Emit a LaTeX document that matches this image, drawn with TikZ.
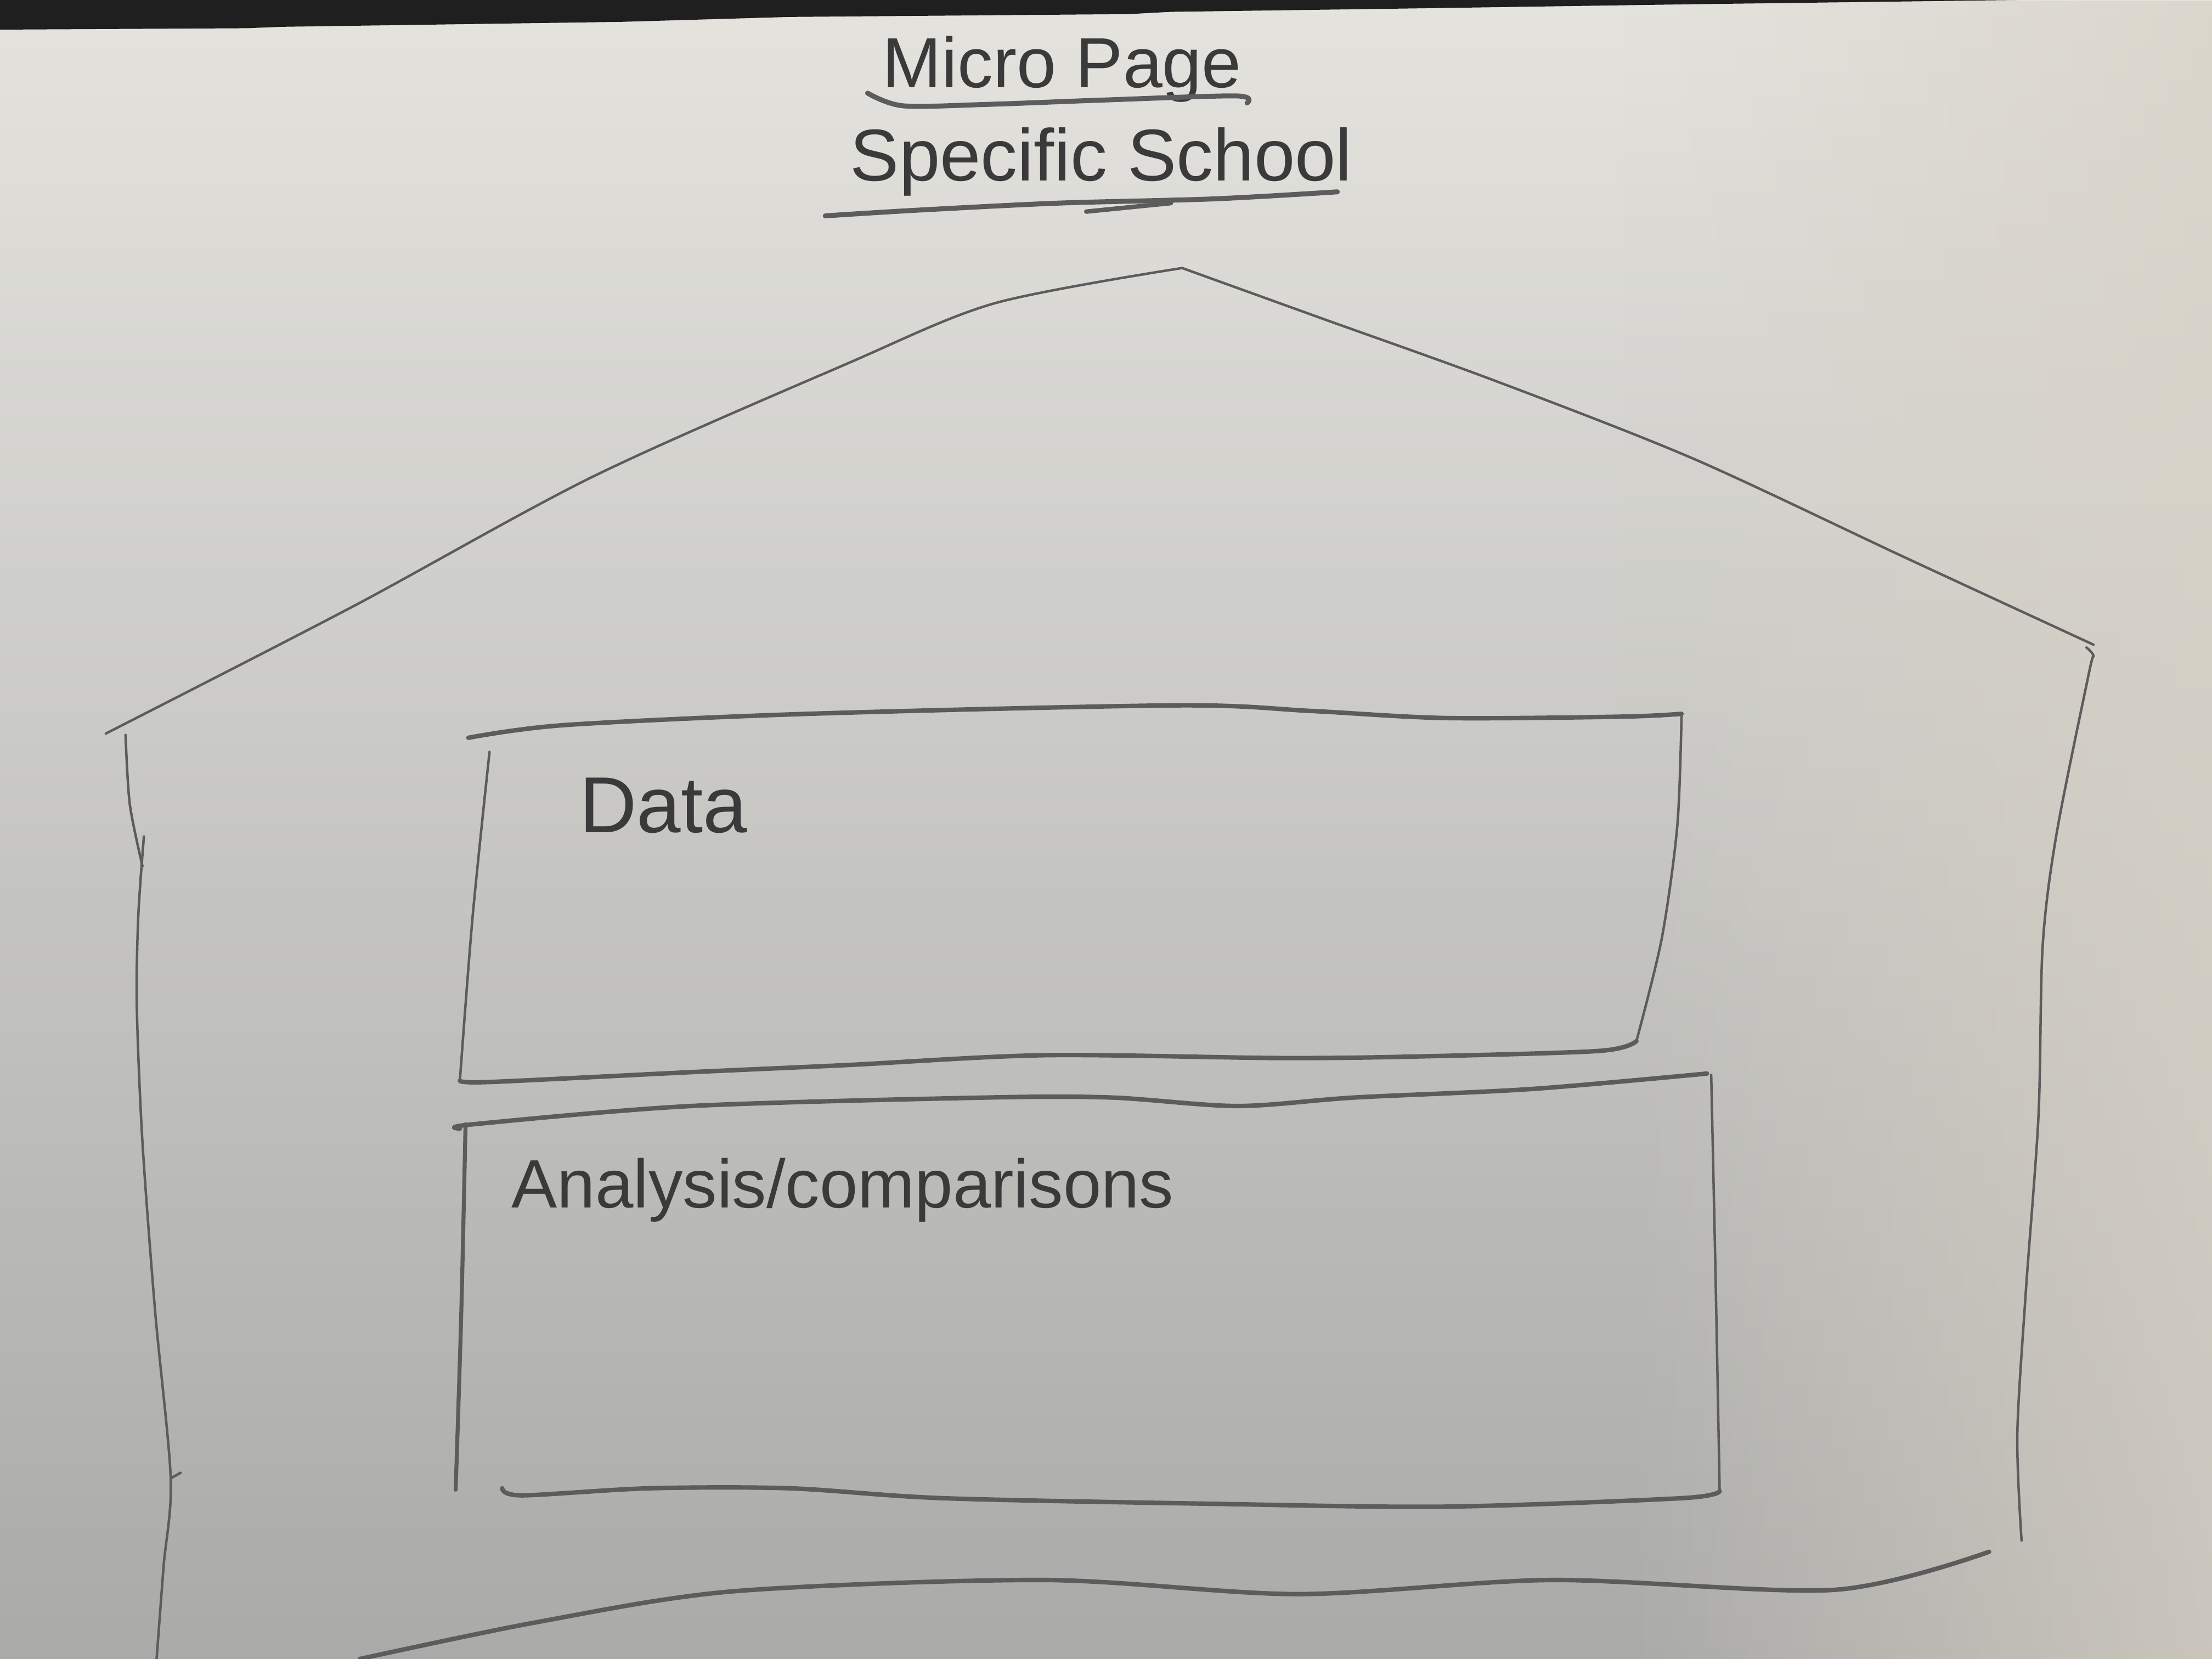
\documentclass[tikz,border=0pt]{standalone}
\usepackage{fontspec}
\setmainfont{Liberation Sans}
\usetikzlibrary{fadings}
\definecolor{papertop}{RGB}{228,227,222}
\definecolor{paperbot}{RGB}{170,170,168}
\definecolor{paperright}{RGB}{216,210,198}
\definecolor{pencil}{RGB}{92,92,92}
\definecolor{ink}{RGB}{58,58,58}
\tikzset{
  stroke/.style={draw=pencil, line width=0.75pt, line cap=round, line join=round},
  thin stroke/.style={draw=pencil, line width=0.5pt, line cap=round, line join=round},
  handtext/.style={text=ink, inner sep=0pt, anchor=base west},
}
\begin{document}
\begin{tikzpicture}[x={(0.01cm,0)}, y={(0,-0.01cm)}]
\useasboundingbox (0,0) rectangle (1568,1176);
% paper
\shade[top color=papertop, bottom color=paperbot] (0,0) rectangle (1568,1176);
\fill[paperright, path fading=west, opacity=0.7] (1150,0) rectangle (1568,1176);
% dark table strip at top
\fill[black!88] (0,0) -- (0,21) -- (175,20) -- (200,19) -- (440,15.5) -- (560,12) -- (800,10) -- (830,8.4) -- (1000,6) -- (1200,3) -- (1430,0) -- cycle;

% titles
\node[handtext, font=\fontsize{14.3}{16}\selectfont] (title1) at (625,62) {Micro Page};
\draw[stroke, line width=1pt] plot[smooth] coordinates {(615,66) (640,75) (700,74) (780,71) (876,68) (884,73)};
\node[handtext, font=\fontsize{14.8}{17}\selectfont] (title2) at (602,128) {Specific School};
\draw[stroke, line width=1pt] plot[smooth] coordinates {(585,153) (650,149) (750,144) (860,141) (948,136)};
\draw[stroke, line width=0.9pt] (770,150) -- (830,144);

% roof
\draw[thin stroke] plot[smooth] coordinates {(75,520) (250,430) (420,338) (600,258) (705,215) (838,190)};
\draw[thin stroke] plot[smooth] coordinates {(838,190) (935,225) (1060,270) (1200,325) (1350,395) (1484,457)};
% walls
\draw[thin stroke] plot[smooth] coordinates {(89,521) (92,570) (101,614)};
\draw[thin stroke] plot[smooth] coordinates {(102,593) (98,650) (97,714) (101,810) (110,930) (121,1048) (116,1110) (111,1176)};
\draw[thin stroke] (121,1048) -- (128,1044);
\draw[thin stroke] plot[smooth] coordinates {(1479,459) (1484,465) (1481,476) (1458,590) (1448,670) (1445,791) (1436,916) (1430,1017) (1433,1092)};
% ground line
\draw[stroke, line width=0.9pt] plot[smooth] coordinates {(255,1176) (380,1150) (520,1128) (740,1120) (920,1130) (1100,1120) (1300,1127) (1410,1100)};

% Data box
\draw[stroke, line width=0.9pt] plot[smooth] coordinates {(332,523) (400,514) (573,506) (835,500) (930,504) (1025,509) (1150,508) (1192,506)};
\draw[thin stroke] plot[smooth] coordinates {(1192,506) (1189,585) (1178,665) (1160,738)};
\draw[stroke, line width=0.9pt] plot[smooth] coordinates {(1160,738) (1133,745) (1000,749) (906,750) (740,748) (600,755) (490,760) (347,767) (326,766)};
\draw[thin stroke] plot[smooth] coordinates {(347,533) (335,650) (326,766)};
\node[handtext, font=\fontsize{16}{18}\selectfont] (datalabel) at (410,590) {Data};

% Analysis box
\draw[stroke, line width=0.9pt] plot[smooth] coordinates {(326,800) (335,797) (490,784) (700,778) (788,778) (877,784) (960,778) (1085,772) (1210,761)};
\draw[thin stroke] plot[smooth] coordinates {(1213,762) (1216,900) (1219,1057)};
\draw[stroke, line width=0.9pt] plot[smooth] coordinates {(1219,1057) (1192,1062) (1025,1068) (860,1066) (668,1062) (560,1055) (460,1055) (370,1060) (356,1055)};
\draw[stroke, line width=0.8pt] plot[smooth] coordinates {(330,797) (327,930) (323,1056)};
\node[handtext, font=\fontsize{13.8}{16}\selectfont] (analysislabel) at (362,856) {Analysis/comparisons};
\end{tikzpicture}
\end{document}
